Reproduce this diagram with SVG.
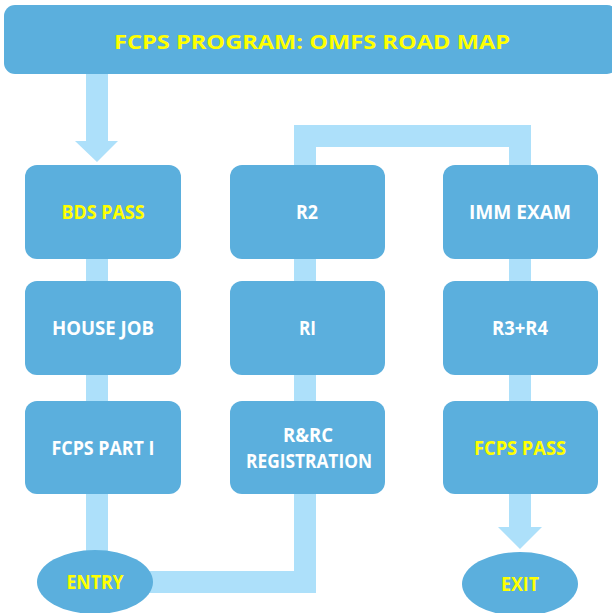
<svg xmlns="http://www.w3.org/2000/svg" width="612" height="613" viewBox="0 0 612 613">
<style>
.box{fill:#5BAFDD}
.con{fill:#ADE0FA}
text{font-family:"Open Sans","Liberation Sans",Arial,sans-serif;font-weight:bold;font-size:19px;text-anchor:middle}
.w{fill:#FFFFFF}
.y{fill:#FFFF00}
</style>
<rect width="612" height="613" fill="#FFFFFF"/>
<g id="connectors">
<polygon class="con" points="86,74 108,74 108,141 118,141 97,162 75,141 86,141"/>
<rect class="con" x="86" y="255" width="22" height="30"/>
<rect class="con" x="86" y="371" width="22" height="34"/>
<rect class="con" x="86" y="490" width="22" height="70"/>
<polygon class="con" points="140,571 294,571 294,490 316,490 316,593 140,593"/>
<rect class="con" x="294" y="255" width="22" height="30"/>
<rect class="con" x="294" y="371" width="22" height="34"/>
<polygon class="con" points="294,170 294,125 531,125 531,170 509,170 509,147 316,147 316,170"/>
<rect class="con" x="509" y="255" width="22" height="30"/>
<rect class="con" x="509" y="371" width="22" height="34"/>
<polygon class="con" points="509,490 531,490 531,527 542,527 520,549 498,527 509,527"/>
</g>
<g id="title"><rect class="box" x="4" y="5" width="614" height="69" rx="11"/><text class="y" x="312" y="49" font-size="24" textLength="396" lengthAdjust="spacingAndGlyphs">FCPS PROGRAM: OMFS ROAD MAP</text></g>
<g id="bds"><rect class="box" x="25" y="165" width="156" height="94" rx="12"/><text class="y" x="103" y="219" textLength="83" lengthAdjust="spacingAndGlyphs">BDS PASS</text></g>
<g id="house"><rect class="box" x="25" y="281" width="156" height="94" rx="12"/><text class="w" x="103" y="335" textLength="102" lengthAdjust="spacingAndGlyphs">HOUSE JOB</text></g>
<g id="part1"><rect class="box" x="25" y="401" width="156" height="93" rx="12"/><text class="w" x="103" y="455" textLength="103" lengthAdjust="spacingAndGlyphs">FCPS PART I</text></g>
<g id="r2"><rect class="box" x="230" y="165" width="155" height="94" rx="12"/><text class="w" x="307" y="219" textLength="22" lengthAdjust="spacingAndGlyphs">R2</text></g>
<g id="ri"><rect class="box" x="230" y="281" width="155" height="94" rx="12"/><text class="w" x="307.5" y="335" textLength="17" lengthAdjust="spacingAndGlyphs">RI</text></g>
<g id="rrc"><rect class="box" x="230" y="401" width="155" height="93" rx="12"/><text class="w" x="308" y="442" textLength="50" lengthAdjust="spacingAndGlyphs">R&amp;RC</text><text class="w" x="309" y="468" textLength="126" lengthAdjust="spacingAndGlyphs">REGISTRATION</text></g>
<g id="imm"><rect class="box" x="443" y="165" width="155" height="94" rx="12"/><text class="w" x="520" y="219" textLength="102" lengthAdjust="spacingAndGlyphs">IMM EXAM</text></g>
<g id="r3r4"><rect class="box" x="443" y="281" width="155" height="94" rx="12"/><text class="w" x="520" y="335" textLength="56" lengthAdjust="spacingAndGlyphs">R3+R4</text></g>
<g id="fcpspass"><rect class="box" x="443" y="401" width="155" height="93" rx="12"/><text class="y" x="520" y="455" textLength="92" lengthAdjust="spacingAndGlyphs">FCPS PASS</text></g>
<g id="entry"><ellipse class="box" cx="95" cy="582" rx="58" ry="32"/><text class="y" x="95" y="589" textLength="57" lengthAdjust="spacingAndGlyphs">ENTRY</text></g>
<g id="exit"><ellipse class="box" cx="520" cy="584" rx="58" ry="32"/><text class="y" x="520" y="591" textLength="38" lengthAdjust="spacingAndGlyphs">EXIT</text></g>
</svg>
